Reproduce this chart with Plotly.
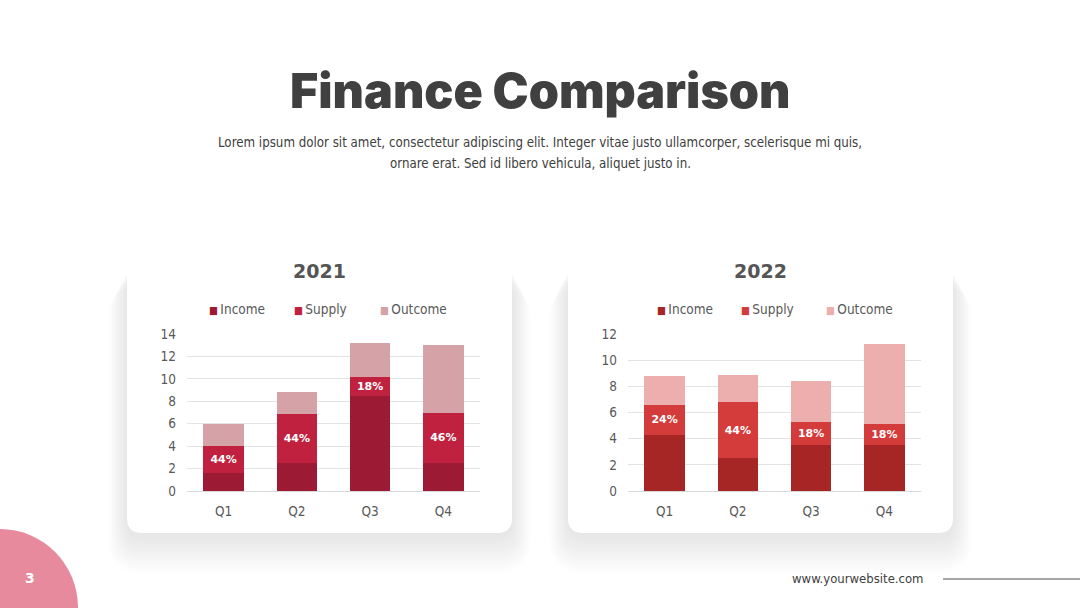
import plotly.graph_objects as go

W, H = 1080, 608

# ---------------- data ----------------
quarters = ["Q1", "Q2", "Q3", "Q4"]
series_names = ["Income", "Supply", "Outcome"]

income_2021 = [1.6, 2.5, 8.5, 2.5]
supply_2021 = [2.4, 4.4, 1.7, 4.5]
outcome_2021 = [2.0, 1.9, 3.0, 6.0]
labels_2021 = ["44%", "44%", "18%", "46%"]

income_2022 = [4.3, 2.5, 3.5, 3.5]
supply_2022 = [2.3, 4.3, 1.8, 1.6]
outcome_2022 = [2.2, 2.1, 3.1, 6.1]
labels_2022 = ["24%", "44%", "18%", "18%"]

colors_2021 = ["#9C1A33", "#C0213F", "#D5A2A8"]
colors_2022 = ["#A52624", "#D43B3B", "#EDAEAE"]

yticks_2021 = [0, 2, 4, 6, 8, 10, 12, 14]
yticks_2022 = [0, 2, 4, 6, 8, 10, 12]

TXT = "#404040"
AX = "#595959"
FONT = "DejaVu Sans Condensed, DejaVu Sans, sans-serif"


def px(x):
    return x / W


def py(y):
    return 1 - y / H


def rrect(x0, y0, x1, y1, r):
    X0, X1 = px(x0), px(x1)
    Y0, Y1 = py(y0), py(y1)
    rx, ry = r / W, r / H
    return (f"M {X0+rx},{Y0} L {X1-rx},{Y0} Q {X1},{Y0} {X1},{Y0-ry} "
            f"L {X1},{Y1+ry} Q {X1},{Y1} {X1-rx},{Y1} L {X0+rx},{Y1} "
            f"Q {X0},{Y1} {X0},{Y1+ry} L {X0},{Y0-ry} Q {X0},{Y0} {X0+rx},{Y0} Z")


fig = go.Figure()

panels = [
    dict(year="2021", vals=[income_2021, supply_2021, outcome_2021], labels=labels_2021,
         colors=colors_2021, xa="x", ya="y", ticks=yticks_2021, rng=[0, 14],
         card=(127, 240, 512, 533), plot=(187, 480), leg_x=[207, 292, 378]),
    dict(year="2022", vals=[income_2022, supply_2022, outcome_2022], labels=labels_2022,
         colors=colors_2022, xa="x2", ya="y2", ticks=yticks_2022, rng=[0, 12],
         card=(568, 240, 953, 533), plot=(628, 921), leg_x=[655, 739, 824]),
]

shapes = []
annotations = []

for p in panels:
    for i, name in enumerate(series_names):
        fig.add_trace(go.Bar(
            x=quarters, y=p["vals"][i], name=name,
            marker=dict(color=p["colors"][i], line=dict(width=0)),
            xaxis=p["xa"], yaxis=p["ya"], showlegend=False,
            text=p["labels"] if name == "Supply" else None,
            textposition="inside" if name == "Supply" else "none",
            insidetextanchor="middle", textangle=0,
            textfont=dict(family="DejaVu Sans", size=11, color="white", weight="bold"),
            hoverinfo="skip",
        ))
    x0, y0, x1, y1 = p["card"]
    # soft shadow, mostly below the card
    for k in range(12):
        ex = 1 + k * 1.6
        shapes.append(dict(type="path", xref="paper", yref="paper", layer="below",
                           path=rrect(x0 - ex, y0 + 24 + 2 * k, x1 + ex, y1 + 5 + 3.2 * k, 15 + ex),
                           fillcolor="rgba(0,0,0,0.0068)", line=dict(width=0)))
    shapes.append(dict(type="path", xref="paper", yref="paper", layer="below",
                       path=rrect(x0, y0, x1, y1, 15), fillcolor="white", line=dict(width=0)))
    cx = (x0 + x1) / 2
    annotations.append(dict(text=f"<b>{p['year']}</b>", x=px(cx), y=py(271), xref="paper", yref="paper",
                            showarrow=False, xanchor="center", yanchor="middle",
                            font=dict(family="DejaVu Sans", size=19, color="#555555")))
    # legend row
    for c, n, lx in zip(p["colors"], series_names, p["leg_x"]):
        annotations.append(dict(
            text=f"<span style='color:{c};font-size:10.5px'>■</span>\u2009{n}",
            x=px(lx), y=py(309), xref="paper", yref="paper",
            showarrow=False, xanchor="left", yanchor="middle",
            font=dict(family=FONT, size=13.5, color=AX)))

layout_axes = {}
for idx, p in enumerate(panels):
    sfx = "" if idx == 0 else "2"
    layout_axes["xaxis" + sfx] = dict(
        domain=[px(p["plot"][0]), px(p["plot"][1])], anchor="y" + sfx, automargin=False,
        showgrid=False, zeroline=False, showline=False, ticks="",
        ticklabelstandoff=10, tickfont=dict(family=FONT, size=13.5, color=AX), fixedrange=True)
    layout_axes["yaxis" + sfx] = dict(
        domain=[py(491), py(334)], anchor="x" + sfx, range=p["rng"], automargin=False,
        tickvals=p["ticks"], showgrid=True, gridcolor="#E3E3E3", gridwidth=1,
        zeroline=True, zerolinecolor="#D9D9D9", zerolinewidth=1,
        showline=False, ticks="", ticklabelstandoff=10,
        tickfont=dict(family=FONT, size=13.5, color=AX), fixedrange=True)

# footer decorations
shapes.append(dict(type="circle", xref="paper", yref="paper", layer="above",
                   x0=px(-78), x1=px(78), y0=py(686), y1=py(529),
                   fillcolor="#E78A9D", line=dict(width=0)))
shapes.append(dict(type="line", xref="paper", yref="paper",
                   x0=px(943), x1=px(1080), y0=py(579), y1=py(579),
                   line=dict(color="#A6A6A6", width=2)))

annotations += [
    dict(text="Finance Comparison", x=0.5, y=py(90.5), xref="paper", yref="paper",
         showarrow=False, xanchor="center", yanchor="middle",
         font=dict(family="Inter", size=48.4, color=TXT, weight=900)),
    dict(text="Lorem ipsum dolor sit amet, consectetur adipiscing elit. Integer vitae justo ullamcorper, "
              "scelerisque mi quis,",
         x=0.5, y=py(142), xref="paper", yref="paper", showarrow=False,
         xanchor="center", yanchor="middle",
         font=dict(family=FONT, size=13.2, color=TXT)),
    dict(text="ornare erat. Sed id libero vehicula, aliquet justo in.",
         x=0.5, y=py(163), xref="paper", yref="paper", showarrow=False,
         xanchor="center", yanchor="middle",
         font=dict(family=FONT, size=13.2, color=TXT)),
    dict(text="<b>3</b>", x=px(30), y=py(578), xref="paper", yref="paper", showarrow=False,
         xanchor="center", yanchor="middle", font=dict(family="DejaVu Sans", size=14, color="white")),
    dict(text="www.yourwebsite.com", x=px(926), y=py(578), xref="paper", yref="paper",
         showarrow=False, xanchor="right", yanchor="middle",
         font=dict(family=FONT, size=13, color=TXT)),
]

fig.update_layout(
    width=W, height=H, margin=dict(l=0, r=0, t=0, b=0, pad=0, autoexpand=False),
    paper_bgcolor="white", plot_bgcolor="rgba(0,0,0,0)",
    barmode="stack", bargap=0.45, showlegend=False,
    shapes=shapes, annotations=annotations, **layout_axes,
)

fig.write_html("out.html", config={"displayModeBar": False})
